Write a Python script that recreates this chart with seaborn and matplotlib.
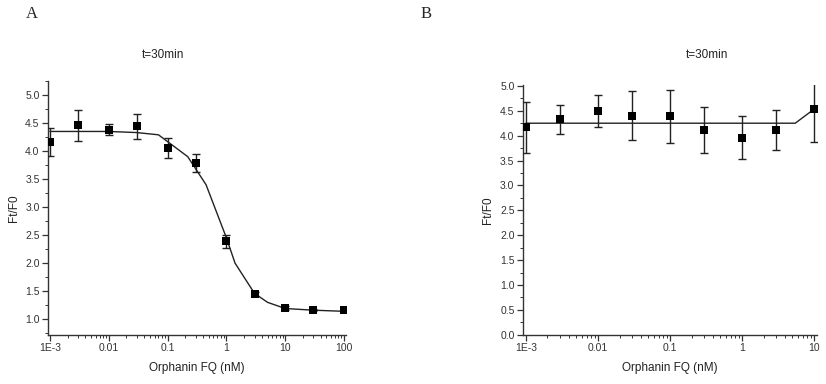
import numpy as np
import pandas as pd
import matplotlib
matplotlib.use("Agg")
import matplotlib.pyplot as plt
import seaborn as sns
from matplotlib.ticker import MultipleLocator, FixedLocator, FixedFormatter, LogLocator, NullFormatter

# panel A data (mean, error)
conc_a = [1e-3, 3e-3, 0.01, 0.03, 0.1, 0.3, 1, 3, 10, 30, 100]
ratio_a = [4.16, 4.46, 4.38, 4.44, 4.05, 3.79, 2.39, 1.45, 1.20, 1.16, 1.16]
err_a = [0.25, 0.28, 0.10, 0.22, 0.18, 0.16, 0.12, 0.03, 0.03, 0.02, 0.02]
# fitted curve as drawn
fit_x_a = [1e-3, 0.01, 0.03, 0.07, 0.22, 0.45, 1, 1.4, 3, 5, 10, 30, 100]
fit_y_a = [4.35, 4.35, 4.33, 4.29, 3.90, 3.40, 2.45, 2.00, 1.46, 1.30, 1.19, 1.16, 1.14]

# panel B data
conc_b = [1e-3, 3e-3, 0.01, 0.03, 0.1, 0.3, 1, 3, 10]
ratio_b = [4.17, 4.33, 4.50, 4.40, 4.39, 4.12, 3.96, 4.12, 4.53]
err_b = [0.51, 0.29, 0.32, 0.49, 0.53, 0.46, 0.43, 0.40, 0.66]
fit_x_b = [1e-3, 5.5, 10]
fit_y_b = [4.25, 4.25, 4.53]

sns.set_style("ticks")
plt.rcParams['font.family'] = ['Liberation Sans', 'DejaVu Sans']

fig = plt.figure(figsize=(8.26, 3.84), dpi=100)
ax_a = fig.add_axes([0.058, 0.128, 0.361, 0.661])
ax_b = fig.add_axes([0.633, 0.128, 0.356, 0.651])


def draw(ax, conc, ratio, err, fx, fy, xticks, xlabels, xlim, ylim, ymaj):
    df = pd.DataFrame({"conc": conc, "ratio": ratio})
    fit = pd.DataFrame({"x": fx, "y": fy})
    ax.set_xscale("log")
    sns.lineplot(data=fit, x="x", y="y", ax=ax, color="#222222", lw=1.0, zorder=2)
    ax.errorbar(conc, ratio, yerr=err, fmt="none", ecolor="#222222",
                elinewidth=1.0, capsize=3, capthick=1.0, zorder=3)
    sns.scatterplot(data=df, x="conc", y="ratio", ax=ax, marker="s", s=26,
                    color="black", edgecolor="black", linewidth=0, zorder=4)
    ax.set_xlim(*xlim)
    ax.set_ylim(*ylim)
    ax.xaxis.set_major_locator(FixedLocator(xticks))
    ax.xaxis.set_major_formatter(FixedFormatter(xlabels))
    ax.xaxis.set_minor_locator(LogLocator(base=10, subs=np.arange(2, 10)))
    ax.xaxis.set_minor_formatter(NullFormatter())
    ax.yaxis.set_major_locator(MultipleLocator(ymaj))
    ax.yaxis.set_minor_locator(MultipleLocator(ymaj / 2))
    ax.tick_params(which="major", length=4, width=0.9, labelsize=7.5, colors="#333333", pad=2)
    ax.tick_params(which="minor", length=2, width=0.7, colors="#333333")
    for s in ["top", "right"]:
        ax.spines[s].set_visible(False)
    for s in ["left", "bottom"]:
        ax.spines[s].set_linewidth(1.0)
        ax.spines[s].set_color("#333333")
    ax.set_xlabel("Orphanin FQ (nM)", fontsize=8.5, color="#222222", labelpad=6)
    ax.set_ylabel("Ft/F0", fontsize=8.5, color="#222222", labelpad=4)
    ax.yaxis.set_major_formatter(matplotlib.ticker.FormatStrFormatter("%.1f"))


draw(ax_a, conc_a, ratio_a, err_a, fit_x_a, fit_y_a,
     [1e-3, 1e-2, 1e-1, 1, 10, 100], ["1E-3", "0.01", "0.1", "1", "10", "100"],
     (0.925e-3, 108), (0.72, 5.25), 0.5)
draw(ax_b, conc_b, ratio_b, err_b, fit_x_b, fit_y_b,
     [1e-3, 1e-2, 1e-1, 1, 10], ["1E-3", "0.01", "0.1", "1", "10"],
     (0.91e-3, 11), (0.0, 5.02), 0.5)

fig.text(163 / 826, 1 - 55 / 384, "t=30min", ha="center", va="center", fontsize=8.5, color="#222222")
fig.text(707 / 826, 1 - 55 / 384, "t=30min", ha="center", va="center", fontsize=8.5, color="#222222")
fig.text(26 / 826, 1 - 14 / 384, "A", ha="left", va="center", fontsize=12,
         family=["Liberation Serif", "DejaVu Serif"])
fig.text(421 / 826, 1 - 14 / 384, "B", ha="left", va="center", fontsize=12,
         family=["Liberation Serif", "DejaVu Serif"])

fig.savefig("out.png", dpi=100, facecolor="white")
